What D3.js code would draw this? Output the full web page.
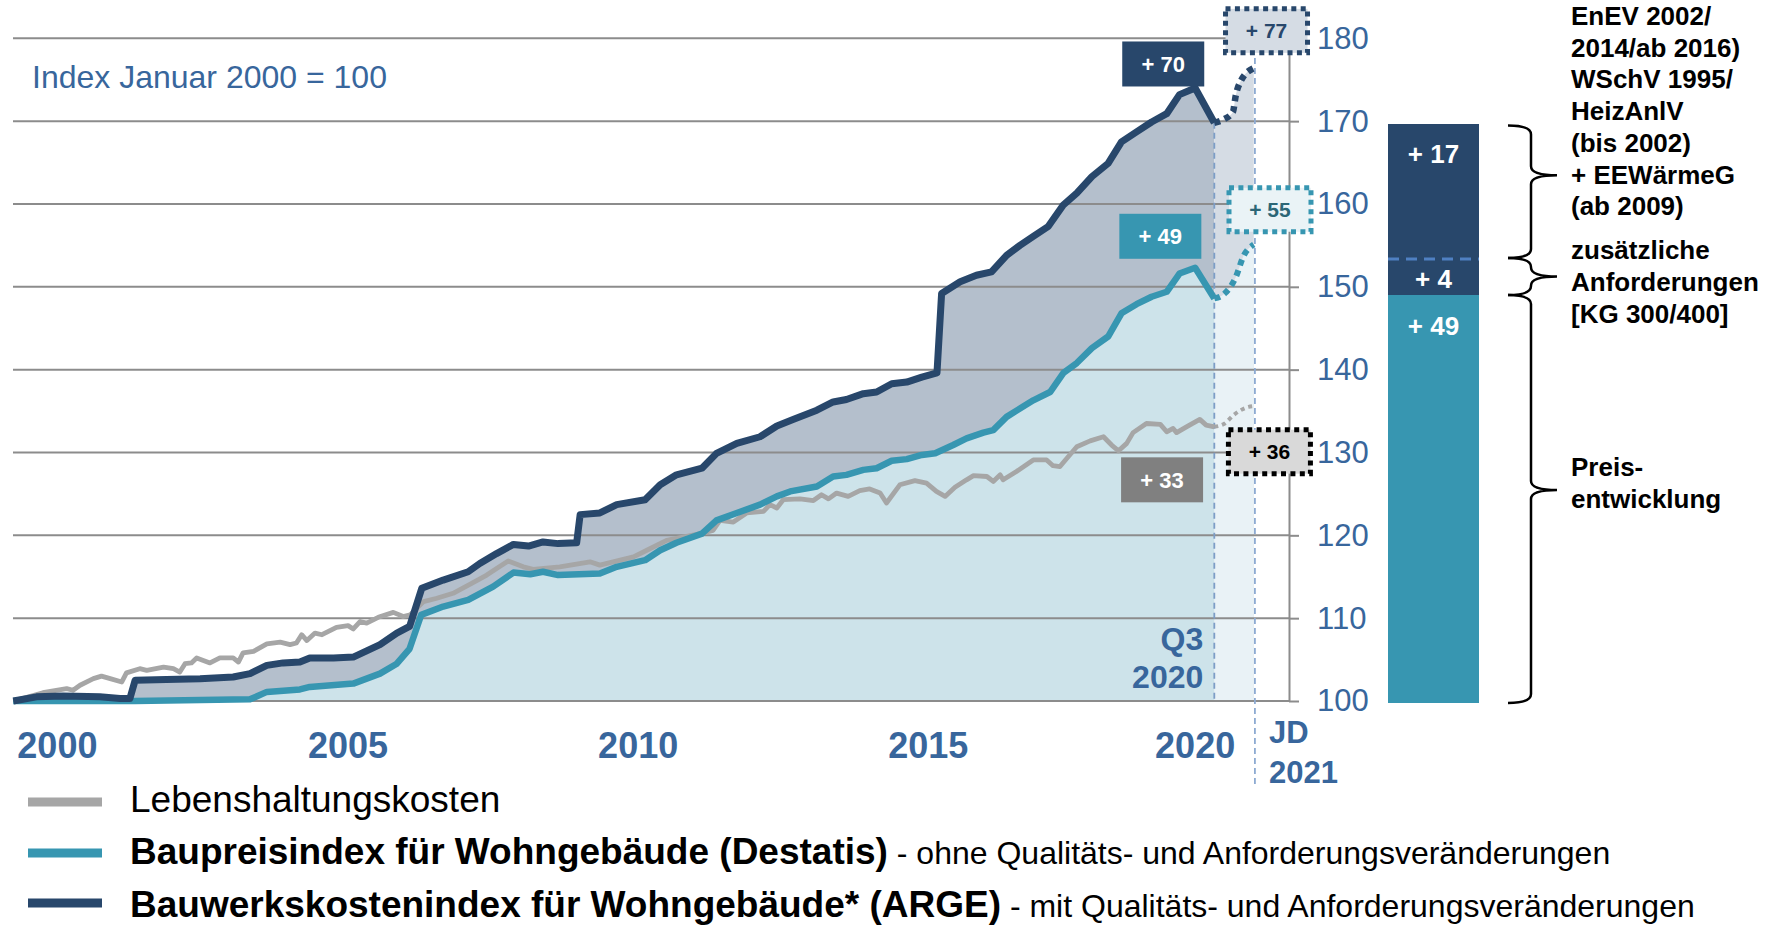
<!DOCTYPE html>
<html lang="de">
<head>
<meta charset="utf-8">
<script src="https://cdn.jsdelivr.net/npm/d3@7"></script>
<style>
  body { margin: 0; background: #fff; }
  svg { display: block; font-family: "Liberation Sans", Arial, sans-serif; }
</style>
</head>
<body>
<div id="chart"></div>
<script>
// ---- data (decimal year, index Jan 2000 = 100) ----
const argeIndex = [
  [2000.00,100.0],[2000.40,100.5],[2000.86,100.6],[2001.49,100.5],[2001.84,100.3],[2002.01,100.3],
  [2002.10,102.5],[2002.64,102.6],[2003.22,102.7],[2003.79,102.9],[2004.08,103.3],[2004.37,104.3],
  [2004.65,104.6],[2004.94,104.7],[2005.11,105.2],[2005.52,105.2],[2005.86,105.3],[2006.32,106.8],
  [2006.61,108.2],[2006.83,109.0],[2007.04,113.6],[2007.41,114.6],[2007.84,115.6],[2008.04,116.6],
  [2008.33,117.8],[2008.62,118.9],[2008.88,118.7],[2009.13,119.2],[2009.39,119.0],[2009.71,119.1],
  [2009.77,122.5],[2010.11,122.7],[2010.40,123.7],[2010.89,124.3],[2011.15,126.1],[2011.43,127.3],
  [2011.87,128.1],[2012.12,129.9],[2012.47,131.1],[2012.87,131.9],[2013.16,133.2],[2013.45,134.0],
  [2013.85,135.1],[2014.13,136.1],[2014.36,136.4],[2014.65,137.1],[2014.88,137.3],[2015.14,138.3],
  [2015.40,138.5],[2015.66,139.1],[2015.92,139.6],[2016.00,149.2],[2016.32,150.6],[2016.60,151.4],
  [2016.86,151.8],[2017.12,153.8],[2017.35,155.0],[2017.58,156.1],[2017.84,157.3],[2018.10,159.9],
  [2018.33,161.3],[2018.59,163.3],[2018.87,164.9],[2019.10,167.5],[2019.36,168.7],[2019.62,169.9],
  [2019.88,170.9],[2020.10,173.2],[2020.37,174.0],[2020.70,169.8]
];
const destatisIndex = [
  [2000.00,100.0],[2002.10,100.0],[2004.08,100.2],[2004.37,101.1],[2004.94,101.4],[2005.11,101.7],
  [2005.86,102.1],[2006.32,103.3],[2006.61,104.5],[2006.83,106.3],[2007.03,110.4],[2007.41,111.4],
  [2007.84,112.2],[2008.27,113.8],[2008.62,115.5],[2008.91,115.3],[2009.13,115.6],[2009.39,115.2],
  [2010.11,115.4],[2010.40,116.2],[2010.89,117.0],[2011.15,118.2],[2011.43,119.1],[2011.87,120.2],
  [2012.12,121.8],[2012.47,122.7],[2012.87,123.7],[2013.16,124.7],[2013.39,125.3],[2013.85,125.9],
  [2014.13,127.1],[2014.36,127.3],[2014.65,127.9],[2014.88,128.1],[2015.14,129.0],[2015.40,129.2],
  [2015.66,129.7],[2015.89,129.9],[2016.20,130.9],[2016.43,131.7],[2016.72,132.4],[2016.89,132.7],
  [2017.12,134.3],[2017.35,135.3],[2017.58,136.3],[2017.87,137.3],[2018.10,139.6],[2018.33,140.8],
  [2018.59,142.6],[2018.87,144.0],[2019.10,146.8],[2019.36,147.9],[2019.62,148.8],[2019.88,149.4],
  [2020.10,151.6],[2020.37,152.3],[2020.70,148.6]
];
const cpiIndex = [
  [2000.00,100.0],[2000.51,101.0],[2000.92,101.5],[2001.03,101.3],[2001.15,101.9],[2001.38,102.7],
  [2001.52,103.0],[2001.67,102.7],[2001.87,102.3],[2001.95,103.4],[2002.18,103.9],[2002.30,103.7],
  [2002.59,104.1],[2002.76,103.9],[2002.87,103.5],[2002.96,104.5],[2003.07,104.6],[2003.16,105.2],
  [2003.39,104.6],[2003.56,105.2],[2003.79,105.2],[2003.88,104.7],[2003.96,105.8],[2004.14,106.0],
  [2004.37,106.9],[2004.60,107.1],[2004.77,106.8],[2004.88,107.0],[2004.97,108.0],[2005.06,107.3],
  [2005.20,108.2],[2005.32,108.0],[2005.57,108.9],[2005.77,109.1],[2005.86,108.7],[2005.98,109.6],
  [2006.09,109.4],[2006.29,110.1],[2006.55,110.7],[2006.72,110.2],[2006.84,110.4],[2007.07,112.0],
  [2007.30,112.4],[2007.58,113.0],[2007.90,114.2],[2008.16,115.2],[2008.33,116.0],[2008.53,116.9],
  [2008.79,116.2],[2008.96,115.9],[2009.42,116.2],[2009.94,116.8],[2010.11,116.4],[2010.69,117.4],
  [2010.92,118.2],[2011.26,119.4],[2011.84,120.2],[2012.06,120.6],[2012.18,121.8],[2012.41,121.6],
  [2012.64,122.7],[2012.93,122.9],[2013.04,123.7],[2013.16,123.3],[2013.27,124.3],[2013.56,124.4],
  [2013.79,124.2],[2013.93,124.9],[2014.05,124.4],[2014.19,125.1],[2014.39,124.7],[2014.59,125.4],
  [2014.76,125.6],[2014.94,125.1],[2015.05,123.9],[2015.28,126.1],[2015.54,126.6],[2015.74,126.3],
  [2015.91,125.3],[2016.06,124.7],[2016.23,125.8],[2016.43,126.7],[2016.55,127.2],[2016.78,127.1],
  [2016.89,126.5],[2017.01,127.3],[2017.06,126.7],[2017.29,127.7],[2017.58,129.1],[2017.81,129.1],
  [2017.92,128.4],[2018.04,128.3],[2018.16,129.3],[2018.33,130.7],[2018.56,131.4],[2018.79,131.9],
  [2018.93,130.9],[2019.05,130.2],[2019.19,131.1],[2019.30,132.4],[2019.53,133.5],[2019.77,133.4],
  [2019.88,132.5],[2019.99,132.9],[2020.05,132.4],[2020.22,133.1],[2020.45,134.0],[2020.56,133.3],
  [2020.70,133.1]
];
// projection Q3 2020 -> Jahresdurchschnitt 2021
const argeForecast = [[2020.70,169.8],[2020.86,170.2],[2021.02,171.1],[2021.07,173.1],[2021.16,174.9],[2021.38,176.4]];
const destatisForecast = [[2020.70,148.6],[2020.88,149.2],[2021.06,151.0],[2021.21,153.8],[2021.38,155.1]];
const cpiForecast = [[2020.70,133.1],[2020.88,133.5],[2021.03,134.5],[2021.29,135.5],[2021.38,135.6]];

const changeLabels = ["+ 70", "+ 49", "+ 33"];
const forecastLabels = ["+ 77", "+ 55", "+ 36"];

const yTicks = [100, 110, 120, 130, 140, 150, 160, 170, 180];
const xTickLabels = ["2000", "2005", "2010", "2015", "2020"];
const xTickPos = [2000.76, 2005.77, 2010.77, 2015.77, 2020.37];
const q3Time = 2020.70, jdTime = 2021.40;

// stacked bar on the right: Preisentwicklung, zusätzliche Anforderungen, EnEV/WSchV
const barParts = ["Preisentwicklung", "zusätzliche Anforderungen", "EnEV/WSchV"];
const barValues = [49, 4, 16.6];
const barLabels = ["+ 49", "+ 4", "+ 17"];
const noteLines = [
  ["Preis-", "entwicklung"],
  ["zusätzliche", "Anforderungen", "[KG 300/400]"],
  ["EnEV 2002/", "2014/ab 2016)", "WSchV 1995/", "HeizAnlV", "(bis 2002)", "+ EEWärmeG", "(ab 2009)"]
];

const legendNames = ["Lebenshaltungskosten", "Baupreisindex für Wohngebäude (Destatis)", "Bauwerkskostenindex für Wohngebäude* (ARGE)"];
const legendNotes = ["", " - ohne Qualitäts- und Anforderungsveränderungen", " - mit Qualitäts- und Anforderungsveränderungen"];

// ---- styles ----
const NAVY = "#28476b", TEAL = "#3796b1", GRAY = "#a6a6a6", BLUE_TXT = "#38669c";
const width = 1774, height = 927;

const x = d3.scaleLinear().domain([2000, q3Time]).range([13.3, 1214.3]);
const y = d3.scaleLinear().domain([100, 180]).range([701, 38.3]);
const axisX = 1289;

const svg = d3.select('#chart').append('svg')
    .attr('width', width)
    .attr('height', height);

const area = d3.area().x(d => x(d[0])).y0(y(100)).y1(d => y(d[1]));
const areaSmooth = d3.area().x(d => x(d[0])).y0(y(100)).y1(d => y(d[1])).curve(d3.curveMonotoneX);
const line = d3.line().x(d => x(d[0])).y(d => y(d[1]));
const lineSmooth = d3.line().x(d => x(d[0])).y(d => y(d[1])).curve(d3.curveMonotoneX);

// areas
svg.append('path').datum(argeIndex).attr('d', area).attr('fill', '#b4bfcc');
svg.append('path').datum(argeForecast).attr('d', areaSmooth).attr('fill', '#d5dce4');
svg.append('path').datum(destatisIndex).attr('d', area).attr('fill', '#cde3ea');
svg.append('path').datum(destatisForecast).attr('d', areaSmooth).attr('fill', '#e9f2f6');

// grid lines
svg.selectAll('.grid-line')
    .data(yTicks)
    .enter()
    .append('line')
    .attr('class', 'grid-line')
    .attr('x1', 13)
    .attr('x2', axisX)
    .attr('y1', d => y(d))
    .attr('y2', d => y(d))
    .attr('stroke', '#8c8c8c')
    .attr('stroke-width', 2);

// right y axis
const yAxis = svg.append('g')
    .attr('transform', `translate(${axisX},0)`)
    .call(d3.axisRight(y).tickValues(yTicks).tickSizeInner(10).tickSizeOuter(0).tickPadding(18));
yAxis.select('.domain').attr('stroke', '#8c8c8c').attr('stroke-width', 2);
yAxis.selectAll('.tick line').attr('stroke', '#8c8c8c').attr('stroke-width', 2);
yAxis.selectAll('.tick text')
    .attr('fill', BLUE_TXT)
    .style('font-size', '31px')
    .style('font-family', '"Liberation Sans", Arial, sans-serif');

// vertical markers Q3 2020 and JD 2021
const last = argeIndex[argeIndex.length - 1];
svg.append('line')
    .attr('x1', x(q3Time)).attr('x2', x(q3Time))
    .attr('y1', y(last[1])).attr('y2', y(100))
    .attr('stroke', '#7d9dc6').attr('stroke-width', 1.8).attr('stroke-dasharray', '6,4');
svg.append('line')
    .attr('x1', x(jdTime)).attr('x2', x(jdTime))
    .attr('y1', 58).attr('y2', 786)
    .attr('stroke', '#8eabd2').attr('stroke-width', 1.8).attr('stroke-dasharray', '6,4');

// lines
svg.append('path').datum(cpiIndex).attr('d', line)
    .attr('fill', 'none').attr('stroke', GRAY).attr('stroke-width', 4.8).attr('stroke-linejoin', 'round');
svg.append('path').datum(destatisIndex).attr('d', line)
    .attr('fill', 'none').attr('stroke', TEAL).attr('stroke-width', 6.5).attr('stroke-linejoin', 'round');
svg.append('path').datum(argeIndex).attr('d', line)
    .attr('fill', 'none').attr('stroke', NAVY).attr('stroke-width', 7).attr('stroke-linejoin', 'round');

// dotted forecasts
svg.append('path').datum(cpiForecast).attr('d', lineSmooth)
    .attr('fill', 'none').attr('stroke', GRAY).attr('stroke-width', 4).attr('stroke-dasharray', '4,4');
svg.append('path').datum(destatisForecast).attr('d', lineSmooth)
    .attr('fill', 'none').attr('stroke', TEAL).attr('stroke-width', 6).attr('stroke-dasharray', '6,5');
svg.append('path').datum(argeForecast).attr('d', lineSmooth)
    .attr('fill', 'none').attr('stroke', NAVY).attr('stroke-width', 6.5).attr('stroke-dasharray', '6,5');

// value boxes (solid: Q3 2020, dotted: JD 2021)
const solidBoxes = [
    {t: 2019.82, v: 176.9, fill: NAVY},
    {t: 2019.77, v: 156.1, fill: TEAL},
    {t: 2019.80, v: 126.7, fill: '#808080'}
];
solidBoxes.forEach((b, i) => {
    const cx = x(b.t), cy = y(b.v);
    svg.append('rect')
        .attr('x', cx - 41).attr('y', cy - 22.5)
        .attr('width', 82).attr('height', 45)
        .attr('fill', b.fill);
    svg.append('text')
        .attr('x', cx).attr('y', cy).attr('dy', '0.36em')
        .attr('text-anchor', 'middle')
        .style('font-size', '22px').style('font-weight', 'bold')
        .attr('fill', '#fff')
        .text(changeLabels[i]);
});

const dottedBoxes = [
    {t: 2021.60, v: 180.9, fill: '#d5dce4', stroke: NAVY, color: NAVY},
    {t: 2021.66, v: 159.3, fill: '#eaf3f6', stroke: TEAL, color: '#2c6676'},
    {t: 2021.65, v: 130.1, fill: '#d9d9d9', stroke: '#000', color: '#000'}
];
dottedBoxes.forEach((b, i) => {
    const cx = x(b.t), cy = y(b.v);
    svg.append('rect')
        .attr('x', cx - 41).attr('y', cy - 22)
        .attr('width', 82).attr('height', 44)
        .attr('fill', b.fill)
        .attr('stroke', b.stroke)
        .attr('stroke-width', 5)
        .attr('stroke-dasharray', '5,4.4');
    svg.append('text')
        .attr('x', cx).attr('y', cy).attr('dy', '0.36em')
        .attr('text-anchor', 'middle')
        .style('font-size', '21px').style('font-weight', 'bold')
        .attr('fill', b.color)
        .text(forecastLabels[i]);
});

// headline
svg.append('text')
    .attr('x', 32).attr('y', 88)
    .style('font-size', '32px')
    .attr('fill', BLUE_TXT)
    .text('Index Januar 2000 = 100');

// x labels
svg.selectAll('.x-label')
    .data(xTickLabels)
    .enter()
    .append('text')
    .attr('class', 'x-label')
    .attr('x', (d, i) => x(xTickPos[i]))
    .attr('y', 758)
    .attr('text-anchor', 'middle')
    .style('font-size', '36px').style('font-weight', 'bold')
    .attr('fill', BLUE_TXT)
    .text(d => d);

// marker labels
[['Q3', 650], ['2020', 688]].forEach(([t, yy]) => {
    svg.append('text')
        .attr('x', x(q3Time) - 11).attr('y', yy)
        .attr('text-anchor', 'end')
        .style('font-size', '32px').style('font-weight', 'bold')
        .attr('fill', BLUE_TXT).text(t);
});
[['JD', 743], ['2021', 783]].forEach(([t, yy]) => {
    svg.append('text')
        .attr('x', x(jdTime) + 14).attr('y', yy)
        .style('font-size', '31px').style('font-weight', 'bold')
        .attr('fill', BLUE_TXT).text(t);
});

// stacked bar
const barX = d3.scaleBand().domain(['JD 2021']).range([1388, 1479]).padding(0);
let base = 100;
const stacked = barValues.map((v, i) => {
    const seg = {name: barParts[i], from: base, to: base + v, label: barLabels[i]};
    base += v;
    return seg;
});
const barColors = [TEAL, NAVY, NAVY];
svg.selectAll('.bar')
    .data(stacked)
    .enter()
    .append('rect')
    .attr('class', 'bar')
    .attr('x', barX('JD 2021'))
    .attr('width', barX.bandwidth())
    .attr('y', d => y(d.to))
    .attr('height', (d, i) => y(d.from) - y(d.to) + (i === 0 ? 2 : 0))
    .attr('fill', (d, i) => barColors[i])
    .attr('shape-rendering', 'crispEdges');
svg.append('line')
    .attr('x1', barX('JD 2021')).attr('x2', barX('JD 2021') + barX.bandwidth())
    .attr('y1', y(stacked[1].to) - 3).attr('y2', y(stacked[1].to) - 3)
    .attr('stroke', '#4f80c2').attr('stroke-width', 3).attr('stroke-dasharray', '11,7');
const labelOffsets = [31, 0, 29];
svg.selectAll('.bar-label')
    .data(stacked)
    .enter()
    .append('text')
    .attr('class', 'bar-label')
    .attr('x', barX('JD 2021') + barX.bandwidth() / 2)
    .attr('y', (d, i) => i === 1 ? (y(d.from) + y(d.to)) / 2 : y(d.to) + labelOffsets[i])
    .attr('dy', '0.36em')
    .attr('text-anchor', 'middle')
    .style('font-size', '26px').style('font-weight', 'bold')
    .attr('fill', '#fff')
    .text(d => d.label);

// braces
function bracePath(y0, y1, yt) {
    const x0 = 1508, xs = 1531, xt = 1557, r = 9;
    return `M${x0},${y0} Q${xs},${y0} ${xs},${y0 + r} L${xs},${yt - r} Q${xs},${yt} ${xt},${yt}`
         + ` Q${xs},${yt} ${xs},${yt + r} L${xs},${y1 - r} Q${xs},${y1} ${x0},${y1}`;
}
const tipFractions = [0.478, 0.5, 0.376];
stacked.forEach((d, i) => {
    const y0 = y(d.to) + (i === 2 ? 1 : 0) - (i === 1 ? 4 : 0), y1 = y(d.from) + (i === 0 ? 2 : 0) - (i === 2 ? 4 : 0);
    svg.append('path')
        .attr('d', bracePath(y0, y1, y0 + (y1 - y0) * tipFractions[i]))
        .attr('fill', 'none').attr('stroke', '#000').attr('stroke-width', 2.5);
});

// notes next to the braces
const noteStart = [476, 259.3, 25];
noteLines.forEach((lines, i) => {
    svg.append('text')
        .attr('x', 1571)
        .style('font-size', '26px').style('font-weight', 'bold')
        .attr('fill', '#000')
        .selectAll('tspan')
        .data(lines)
        .enter()
        .append('tspan')
        .attr('x', 1571)
        .attr('y', (d, j) => noteStart[i] + j * 31.7)
        .text(d => d);
});

// legend
const legendColors = [GRAY, TEAL, NAVY];
const legendSwatchY = [802, 853, 903];
const legendTextY = [812, 864, 917];
legendNames.forEach((name, i) => {
    svg.append('rect')
        .attr('x', 28).attr('y', legendSwatchY[i] - 4.5)
        .attr('width', 74).attr('height', 9)
        .attr('fill', legendColors[i]);
    const t = svg.append('text')
        .attr('x', 130).attr('y', legendTextY[i])
        .attr('fill', '#000');
    t.append('tspan')
        .style('font-size', '37px')
        .style('font-weight', i === 0 ? 'normal' : 'bold')
        .text(name);
    if (legendNotes[i]) {
        t.append('tspan')
            .style('font-size', '32px')
            .style('font-weight', 'normal')
            .text(legendNotes[i]);
    }
});
</script>
</body>
</html>
